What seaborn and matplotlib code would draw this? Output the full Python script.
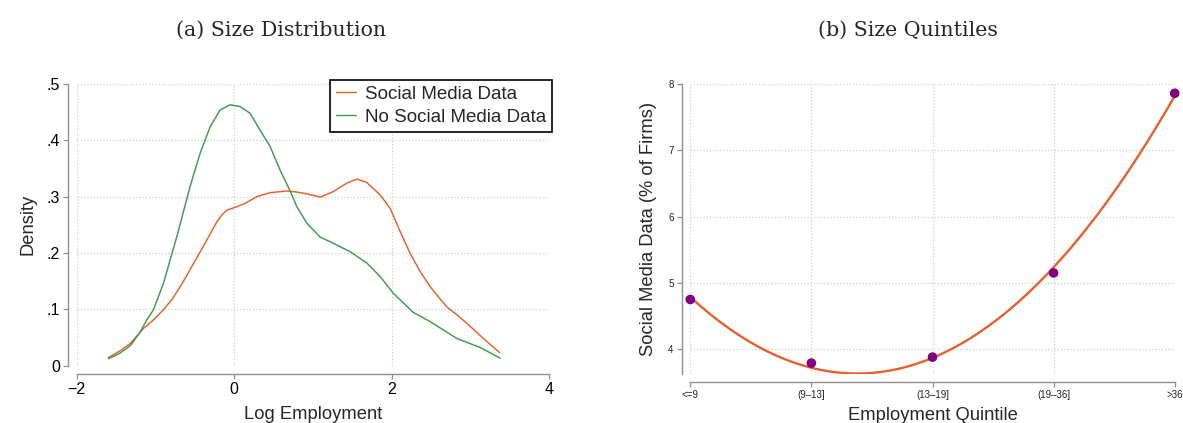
import matplotlib
matplotlib.use("Agg")
import matplotlib.pyplot as plt
import numpy as np
import pandas as pd
import seaborn as sns

# ---- Panel (a): kernel density of log employment, by group ----
x_social = [-1.597, -1.45, -1.32, -1.15, -1.025, -0.898, -0.786, -0.686, -0.60, -0.517,
            -0.43, -0.347, -0.28, -0.220, -0.157, -0.093, 0.034, 0.140, 0.288, 0.457,
            0.669, 0.80, 0.923, 1.093, 1.262, 1.432, 1.559, 1.686, 1.855, 1.982,
            2.109, 2.236, 2.363, 2.490, 2.60, 2.703, 2.83, 2.957, 3.168, 3.371]
dens_social = [0.014, 0.026, 0.039, 0.066, 0.081, 0.099, 0.118, 0.140, 0.160, 0.181,
               0.202, 0.223, 0.240, 0.255, 0.267, 0.276, 0.282, 0.288, 0.300, 0.307,
               0.310, 0.308, 0.305, 0.299, 0.309, 0.324, 0.331, 0.325, 0.303, 0.279,
               0.238, 0.199, 0.167, 0.140, 0.121, 0.104, 0.090, 0.075, 0.048, 0.023]
x_nosocial = [-1.597, -1.45, -1.32, -1.20, -1.109, -1.025, -0.898, -0.728, -0.559, -0.432,
              -0.305, -0.178, -0.051, 0.076, 0.203, 0.330, 0.457, 0.584, 0.712, 0.797,
              0.923, 1.093, 1.262, 1.474, 1.686, 1.855, 2.024, 2.278, 2.490, 2.829,
              3.126, 3.380]
dens_nosocial = [0.012, 0.022, 0.035, 0.058, 0.081, 0.099, 0.146, 0.229, 0.318, 0.377,
                 0.424, 0.454, 0.463, 0.460, 0.448, 0.418, 0.389, 0.347, 0.310, 0.282,
                 0.253, 0.228, 0.217, 0.202, 0.182, 0.158, 0.128, 0.094, 0.078, 0.048,
                 0.032, 0.013]
series_names = ["Social Media Data", "No Social Media Data"]
dens_xticks = [-2, 0, 2, 4]
dens_xticklabels = ["\u22122", "0", "2", "4"]
dens_yticks = [0, 0.1, 0.2, 0.3, 0.4, 0.5]
dens_yticklabels = ["0", ".1", ".2", ".3", ".4", ".5"]

# ---- Panel (b): share of firms with social media data by size quintile ----
quintile_labels = ["<=9", "(9\u201313]", "(13\u201319]", "(19\u201336]", ">36"]
quintile_pos = [0, 1, 2, 3, 4]
share_social = [4.75, 3.79, 3.88, 5.15, 7.86]
share_yticks = [4, 5, 6, 7, 8]

ORANGE = "#E6602B"
GREEN = "#3F9A52"
PURPLE = "#800080"
AXIS_GREY = "#8f8f8f"
GRID_GREY = "#cfcfcf"

sns.set_theme(style="white")
plt.rcParams["font.family"] = ["Liberation Sans", "DejaVu Sans"]

W, H = 1183, 423
fig = plt.figure(figsize=(W / 100, H / 100), dpi=100)


def px_axes(left, top, right, bottom):
    return fig.add_axes([left / W, 1 - bottom / H, (right - left) / W, (bottom - top) / H])


ax1 = px_axes(76.7, 84.0, 549.0, 365.5)
ax2 = px_axes(690.3, 84.0, 1174.7, 373.7)

grid_kw = dict(color=GRID_GREY, linestyle=(0, (1, 1.6)), linewidth=0.9)
tick_kw = dict(length=3.6, width=0.9, color=AXIS_GREY, pad=2.2, direction="out",
               bottom=True, left=True, top=False, right=False)

# ---- draw panel (a) ----
dens_df = pd.concat([
    pd.DataFrame({"x": x_social, "density": dens_social, "group": series_names[0]}),
    pd.DataFrame({"x": x_nosocial, "density": dens_nosocial, "group": series_names[1]}),
])
sns.lineplot(data=dens_df, x="x", y="density", hue="group", sort=False,
             palette=[ORANGE, GREEN], linewidth=1.05, ax=ax1)
ax1.set_xlim(-2, 4)
ax1.set_ylim(0, 0.5)
ax1.set_xticks(dens_xticks, dens_xticklabels)
ax1.set_yticks(dens_yticks, dens_yticklabels)
ax1.grid(True, **grid_kw)
ax1.set_axisbelow(True)
ax1.tick_params(axis="both", labelsize=11.5, labelcolor="black", **tick_kw)
ax1.set_xlabel("Log Employment", fontsize=13.2, labelpad=6)
ax1.set_ylabel("Density", fontsize=13.2, labelpad=7)

leg = ax1.legend(loc="upper right", bbox_to_anchor=(551.7 / W, 1 - 80 / H),
                 bbox_transform=fig.transFigure, fontsize=13.5, frameon=True,
                 fancybox=False, framealpha=1, edgecolor="black",
                 handlelength=1.1, handletextpad=0.45, labelspacing=0.32,
                 borderpad=0.3, borderaxespad=0)
leg.get_frame().set_linewidth(1.2)
for line in leg.get_lines():
    line.set_linewidth(1.0)

# ---- draw panel (b) ----
share_df = pd.DataFrame({"quintile": quintile_pos, "share": share_social})
sns.regplot(data=share_df, x="quintile", y="share", order=2, ci=None, ax=ax2,
            scatter_kws=dict(color=PURPLE, s=48, alpha=1, edgecolor="none", zorder=3, clip_on=False),
            line_kws=dict(color=ORANGE, linewidth=1.7, zorder=2))
ax2.set_xlim(0, 4)
ax2.set_ylim(3.63, 8.0)
ax2.set_xticks(quintile_pos, quintile_labels)
ax2.set_yticks(share_yticks)
ax2.grid(True, **grid_kw)
ax2.set_axisbelow(True)
ax2.tick_params(axis="both", labelsize=7, labelcolor="#222222", **tick_kw)
ax2.set_xlabel("Employment Quintile", fontsize=13.2, labelpad=5)
ax2.set_ylabel("Social Media Data (% of Firms)", fontsize=13.2, labelpad=8)

for ax in (ax1, ax2):
    sns.despine(ax=ax, offset=6.2)
    for side in ("left", "bottom"):
        ax.spines[side].set_color(AXIS_GREY)
        ax.spines[side].set_linewidth(1.0)

# panel titles
fig.text(281.5 / W, 1 - 30 / H, "(a) Size Distribution", ha="center", va="center",
         fontsize=14.8, family=["DejaVu Serif"])
fig.text(908 / W, 1 - 30 / H, "(b) Size Quintiles", ha="center", va="center",
         fontsize=14.8, family=["DejaVu Serif"])

fig.savefig("out.png", dpi=100)
